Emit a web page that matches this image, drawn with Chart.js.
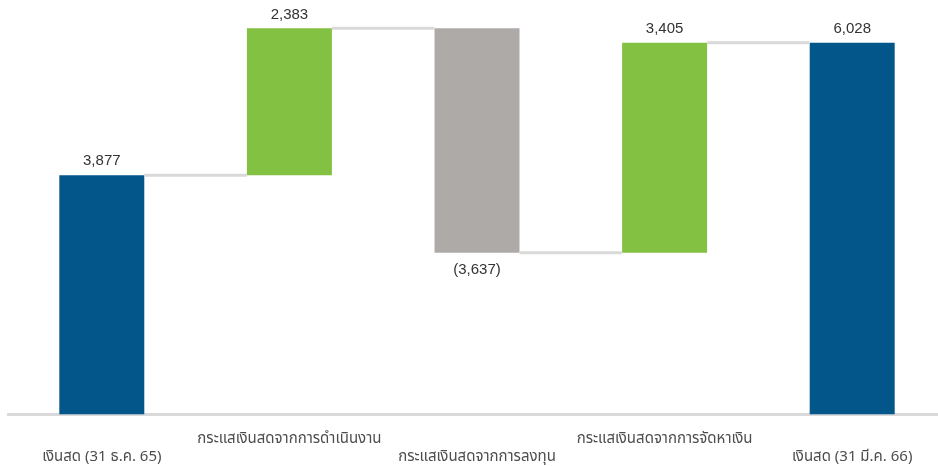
<!DOCTYPE html>
<html>
<head>
<meta charset="utf-8">
<script src="https://cdn.jsdelivr.net/npm/chart.js@4"></script>
<style>
  html, body { margin: 0; padding: 0; overflow: hidden; background: #fff; }
  #chart_div { width: 946px; height: 466px; }
</style>
</head>
<body>
<div id="chart_div"><canvas id="myChart"></canvas></div>
<script>
const categories = [
  "เงินสด (31 ธ.ค. 65)",
  "กระแสเงินสดจากการดำเนินงาน",
  "กระแสเงินสดจากการลงทุน",
  "กระแสเงินสดจากการจัดหาเงิน",
  "เงินสด (31 มี.ค. 66)"
];
const amounts = [3877, 2383, -3637, 3405, 6028];
const isTotal = [true, false, false, false, true];

const blue = "#03568a";
const green = "#83c142";
const grey = "#aeaaa8";
const connColor = "#d9d9d9";

// build floating bars [from, to]
let running = 0;
const ranges = amounts.map((v, i) => {
  if (isTotal[i]) {
    running = v;
    return [0, v];
  }
  const from = running;
  running += v;
  return [from, running];
});
const colors = amounts.map((v, i) => isTotal[i] ? blue : v < 0 ? grey : green);

const fmt = (v) => {
  const s = Math.abs(v).toLocaleString("en-US");
  return v < 0 ? `(${s})` : s;
};

const waterfallExtras = {
  id: "waterfallExtras",
  afterDatasetsDraw(chart) {
    const ctx = chart.ctx;
    const meta = chart.getDatasetMeta(0);
    const y = chart.scales.y;
    ctx.save();
    // connectors
    ctx.strokeStyle = connColor;
    ctx.lineWidth = 3;
    for (let i = 0; i < ranges.length - 1; i++) {
      const a = meta.data[i];
      const b = meta.data[i + 1];
      const level = y.getPixelForValue(ranges[i][1]);
      ctx.beginPath();
      ctx.moveTo(a.x + a.width / 2, level);
      ctx.lineTo(b.x - b.width / 2, level);
      ctx.stroke();
    }
    // value labels
    ctx.fillStyle = "#333333";
    ctx.font = "15px 'Liberation Sans', Arial, sans-serif";
    ctx.textAlign = "center";
    ctx.textBaseline = "middle";
    meta.data.forEach((bar, i) => {
      const v = amounts[i];
      if (v < 0) {
        ctx.fillText(fmt(v), bar.x, y.getPixelForValue(ranges[i][1]) + 17);
      } else {
        ctx.fillText(fmt(v), bar.x, y.getPixelForValue(Math.max(...ranges[i])) - 14);
      }
    });
    ctx.restore();
  }
};

new Chart(document.getElementById("myChart"), {
  type: "bar",
  data: {
    labels: categories,
    datasets: [{
      data: ranges,
      backgroundColor: colors,
      borderWidth: 0,
      barPercentage: 0.453,
      categoryPercentage: 1
    }]
  },
  options: {
    responsive: true,
    maintainAspectRatio: false,
    animation: false,
    layout: { padding: { left: 8, right: 0, top: 0, bottom: -17 } },
    plugins: { legend: { display: false }, tooltip: { enabled: false } },
    scales: {
      x: {
        grid: { display: false, drawTicks: false },
        border: { display: true, color: connColor, width: 3 },
        ticks: {
          autoSkip: false,
          maxRotation: 0,
          minRotation: 0,
          padding: 16,
          color: "#4d4d4d",
          font: { family: "Tahoma, 'Noto Sans Thai', 'Noto Sans', sans-serif", size: 15, lineHeight: 1.22 },
          callback: (val, idx) => idx % 2 === 1 ? [categories[idx], ""] : ["", categories[idx]]
        }
      },
      y: {
        display: false,
        min: 0,
        max: 6720
      }
    }
  },
  plugins: [waterfallExtras]
});
</script>
</body>
</html>
